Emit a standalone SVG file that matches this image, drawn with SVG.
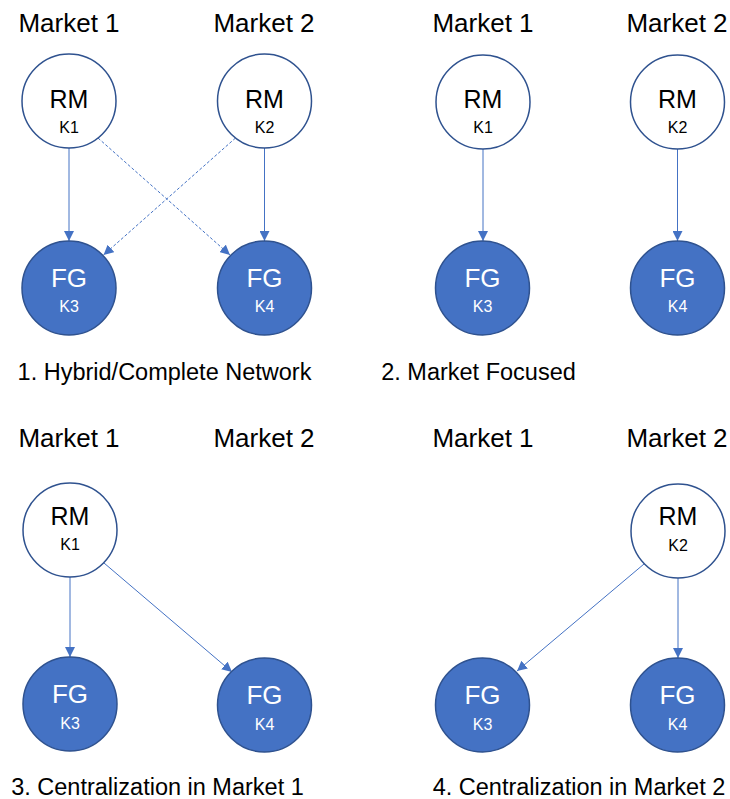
<svg xmlns="http://www.w3.org/2000/svg" width="730" height="799" viewBox="0 0 730 799">
  <defs>
    <marker id="arrow" markerUnits="userSpaceOnUse" markerWidth="10" markerHeight="10" refX="10" refY="5" orient="auto">
      <path d="M0,0 L10,5 L0,10 z" fill="#4472C4"/>
    </marker>
    <style>
      text { font-family: "Liberation Sans", Arial, sans-serif; text-anchor: middle; }
      .market { font-size: 26px; fill: #000; }
      .caption { font-size: 23.5px; fill: #000; }
      .rm circle { fill: #fff; stroke: #2F528F; stroke-width: 1.5; }
      .fg circle { fill: #4472C4; stroke: #2F528F; stroke-width: 1.5; }
      .rm .main { font-size: 25px; fill: #000; }
      .rm .sub { font-size: 16px; fill: #000; }
      .fg .main { font-size: 26px; fill: #fff; }
      .fg .sub { font-size: 16px; fill: #fff; }
      .link { stroke: #4472C4; stroke-width: 1; fill: none; marker-end: url(#arrow); }
      .dashed { stroke-dasharray: 3 2; }
    </style>
  </defs>

  <!-- market headings -->
  <g id="headings">
    <text class="market" x="69" y="32">Market 1</text>
    <text class="market" x="264" y="32">Market 2</text>
    <text class="market" x="483" y="32">Market 1</text>
    <text class="market" x="677" y="32">Market 2</text>
    <text class="market" x="69" y="447">Market 1</text>
    <text class="market" x="264" y="447">Market 2</text>
    <text class="market" x="483" y="447">Market 1</text>
    <text class="market" x="677" y="447">Market 2</text>
  </g>

  <!-- connectors -->
  <g id="connectors">
    <!-- 1. hybrid / complete network -->
    <line class="link" x1="69" y1="148" x2="69" y2="241"/>
    <line class="link" x1="264.5" y1="148" x2="264.5" y2="241"/>
    <line class="link dashed" x1="98" y1="138" x2="230" y2="255"/>
    <line class="link dashed" x1="235.5" y1="138" x2="103.5" y2="255"/>
    <!-- 2. market focused -->
    <line class="link" x1="483" y1="149" x2="483" y2="241"/>
    <line class="link" x1="677.5" y1="149" x2="677.5" y2="241"/>
    <!-- 3. centralization in market 1 -->
    <line class="link" x1="70" y1="577" x2="70" y2="657"/>
    <line class="link" x1="104" y1="563" x2="232" y2="672"/>
    <!-- 4. centralization in market 2 -->
    <line class="link" x1="678" y1="578" x2="678" y2="658"/>
    <line class="link" x1="644" y1="564" x2="517" y2="671"/>
  </g>

  <!-- panel 1 nodes -->
  <g id="p1-rm-k1" class="rm">
    <circle cx="69" cy="101" r="47"/>
    <text class="main" x="69" y="108">RM</text>
    <text class="sub" x="69" y="133">K1</text>
  </g>
  <g id="p1-rm-k2" class="rm">
    <circle cx="264.5" cy="101" r="47"/>
    <text class="main" x="264.5" y="108">RM</text>
    <text class="sub" x="264.5" y="133">K2</text>
  </g>
  <g id="p1-fg-k3" class="fg">
    <circle cx="69" cy="288" r="47"/>
    <text class="main" x="69" y="287">FG</text>
    <text class="sub" x="69" y="312">K3</text>
  </g>
  <g id="p1-fg-k4" class="fg">
    <circle cx="264.5" cy="288" r="47"/>
    <text class="main" x="264.5" y="287">FG</text>
    <text class="sub" x="264.5" y="312">K4</text>
  </g>

  <!-- panel 2 nodes -->
  <g id="p2-rm-k1" class="rm">
    <circle cx="483" cy="102" r="47"/>
    <text class="main" x="483" y="108">RM</text>
    <text class="sub" x="483" y="133">K1</text>
  </g>
  <g id="p2-rm-k2" class="rm">
    <circle cx="677.5" cy="102" r="47"/>
    <text class="main" x="677.5" y="108">RM</text>
    <text class="sub" x="677.5" y="133">K2</text>
  </g>
  <g id="p2-fg-k3" class="fg">
    <circle cx="482.5" cy="288" r="47"/>
    <text class="main" x="482.5" y="287">FG</text>
    <text class="sub" x="482.5" y="312">K3</text>
  </g>
  <g id="p2-fg-k4" class="fg">
    <circle cx="677.5" cy="288" r="47"/>
    <text class="main" x="677.5" y="287">FG</text>
    <text class="sub" x="677.5" y="312">K4</text>
  </g>

  <!-- panel 3 nodes -->
  <g id="p3-rm-k1" class="rm">
    <circle cx="70" cy="530" r="47"/>
    <text class="main" x="70" y="525">RM</text>
    <text class="sub" x="70" y="550">K1</text>
  </g>
  <g id="p3-fg-k3" class="fg">
    <circle cx="70" cy="704" r="47"/>
    <text class="main" x="70" y="703">FG</text>
    <text class="sub" x="70" y="729">K3</text>
  </g>
  <g id="p3-fg-k4" class="fg">
    <circle cx="264.5" cy="705" r="47"/>
    <text class="main" x="264.5" y="704">FG</text>
    <text class="sub" x="264.5" y="730">K4</text>
  </g>

  <!-- panel 4 nodes -->
  <g id="p4-rm-k2" class="rm">
    <circle cx="678" cy="531" r="47"/>
    <text class="main" x="678" y="525">RM</text>
    <text class="sub" x="678" y="551">K2</text>
  </g>
  <g id="p4-fg-k3" class="fg">
    <circle cx="482.5" cy="705" r="47"/>
    <text class="main" x="482.5" y="704">FG</text>
    <text class="sub" x="482.5" y="730">K3</text>
  </g>
  <g id="p4-fg-k4" class="fg">
    <circle cx="677.5" cy="705" r="47"/>
    <text class="main" x="677.5" y="704">FG</text>
    <text class="sub" x="677.5" y="730">K4</text>
  </g>

  <!-- panel captions -->
  <g id="captions">
    <text class="caption" x="164.5" y="380">1. Hybrid/Complete Network</text>
    <text class="caption" x="478.5" y="380">2. Market Focused</text>
    <text class="caption" x="157.5" y="795">3. Centralization in Market 1</text>
    <text class="caption" x="579" y="795">4. Centralization in Market 2</text>
  </g>
</svg>
